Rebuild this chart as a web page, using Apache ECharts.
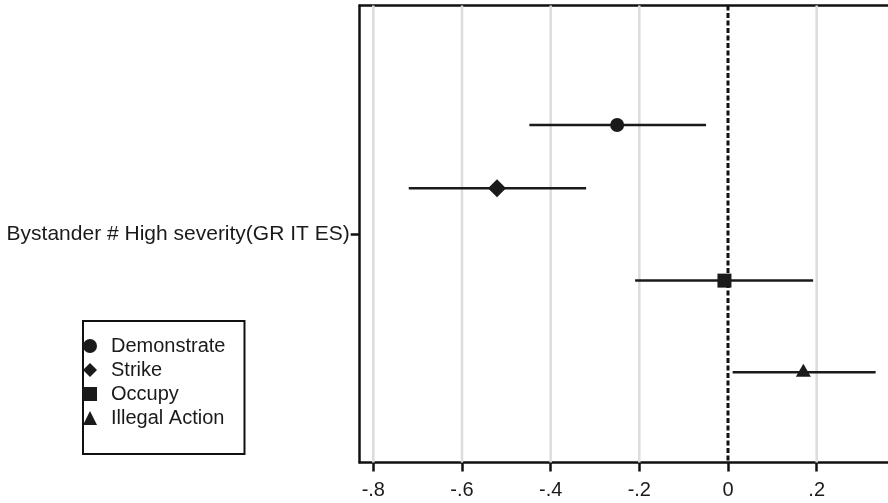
<!DOCTYPE html>
<html><head><meta charset="utf-8">
<script src="https://cdn.jsdelivr.net/npm/echarts@6/dist/echarts.min.js"></script>
<style>html,body{margin:0;padding:0;background:#fff}#c{width:888px;height:503px}</style>
</head><body><div id="c"></div>
<script>
var rowLabel = ['Bystander # High severity(GR IT ES)'];
var categories = ['Demonstrate', 'Strike', 'Occupy', 'Illegal Action'];
var estimates = [-0.25, -0.521, -0.008, 0.170];
var lower = [-0.448, -0.720, -0.2095, 0.0105];
var upper = [-0.0495, -0.320, 0.192, 0.333];
var rowPos = [0.2615, 0.400, 0.602, 0.8026];
var tickValues = [-0.8, -0.6, -0.4, -0.2, 0, 0.2];
var tickLabels = ['-.8', '-.6', '-.4', '-.2', '0', '.2'];
var symbols = ['circle', 'diamond', 'rect', 'triangle'];
var symSizes = [14, 18, 14, [15, 13]];
var symOffsets = [[0, 0], [0, 0], [0, 0], [0, -2]];

var XMIN = -0.8307, XMAX = 0.3609;
var font = 'Liberation Sans, Arial, sans-serif';
var chart = echarts.init(document.getElementById('c'), null, {renderer: 'canvas'});

function fmt(v) {
  for (var i = 0; i < tickValues.length; i++) {
    if (Math.abs(v - tickValues[i]) < 1e-6) return tickLabels[i];
  }
  return '';
}

var series = [];
series.push({
  type: 'custom', xAxisIndex: 0, yAxisIndex: 1, z: 1, silent: true,
  data: [0],
  renderItem: function (params, api) {
    var children = [];
    tickValues.forEach(function (t) {
      if (t === 0) return;
      var a = api.coord([t, 0]), b = api.coord([t, 1]);
      children.push({type: 'line', shape: {x1: a[0], y1: a[1], x2: b[0], y2: b[1]},
        style: {stroke: '#dcdcdc', lineWidth: 2.5}});
    });
    var z0 = api.coord([0, 0]), z1 = api.coord([0, 1]);
    children.push({type: 'line', shape: {x1: z0[0], y1: z0[1], x2: z1[0], y2: z1[1]},
      style: {stroke: '#111', lineWidth: 3, lineDash: [5, 2.5]}});
    for (var i = 0; i < categories.length; i++) {
      var p = api.coord([lower[i], rowPos[i]]), q = api.coord([upper[i], rowPos[i]]);
      children.push({type: 'line', shape: {x1: p[0], y1: p[1], x2: q[0], y2: q[1]},
        style: {stroke: '#1a1a1a', lineWidth: 2.5}});
    }
    return {type: 'group', children: children};
  }
});
categories.forEach(function (name, i) {
  series.push({
    type: 'scatter', name: name, xAxisIndex: 0, yAxisIndex: 1, z: 5,
    symbol: symbols[i], symbolSize: symSizes[i], symbolOffset: symOffsets[i],
    itemStyle: {color: '#1a1a1a', opacity: 1},
    data: [[estimates[i], rowPos[i]]]
  });
});

chart.setOption({
  animation: false,
  backgroundColor: '#fff',
  grid: {left: 359.7, right: 0, top: 5.5, bottom: 40.5, containLabel: false},
  legend: {
    orient: 'vertical', left: 83, top: 321,
    padding: [15, 19, 26, 0], itemGap: 4, itemWidth: 14, itemHeight: 14,
    borderColor: '#111', borderWidth: 2, borderRadius: 0,
    textStyle: {fontFamily: font, fontSize: 20, color: '#1a1a1a', padding: [0, 0, 0, 9]},
    data: categories.map(function (c, i) { return {name: c, icon: symbols[i]}; })
  },
  xAxis: [{
    type: 'value', position: 'bottom', min: XMIN, max: XMAX,
    axisLine: {show: true, onZero: false, lineStyle: {color: '#111', width: 2.5}},
    axisTick: {show: true, length: 9, lineStyle: {color: '#111', width: 2.5}, customValues: tickValues},
    axisLabel: {fontFamily: font, fontSize: 20, color: '#1a1a1a', margin: 18, formatter: fmt, customValues: tickValues},
    splitLine: {show: false}
  }, {
    type: 'value', position: 'top', min: XMIN, max: XMAX,
    axisLine: {show: true, onZero: false, lineStyle: {color: '#111', width: 2.5}},
    axisTick: {show: false}, axisLabel: {show: false}, splitLine: {show: false}
  }],
  yAxis: [{
    type: 'category', data: rowLabel, position: 'left',
    axisLine: {show: true, onZero: false, lineStyle: {color: '#111', width: 2.5}},
    axisTick: {show: true, alignWithLabel: true, length: 9, lineStyle: {color: '#111', width: 2.5}},
    axisLabel: {fontFamily: font, fontSize: 21, color: '#1a1a1a', margin: 10},
    splitLine: {show: false}
  }, {
    type: 'value', min: 0, max: 1, inverse: true, show: false,
    splitLine: {show: false}
  }],
  series: series
});
</script></body></html>
